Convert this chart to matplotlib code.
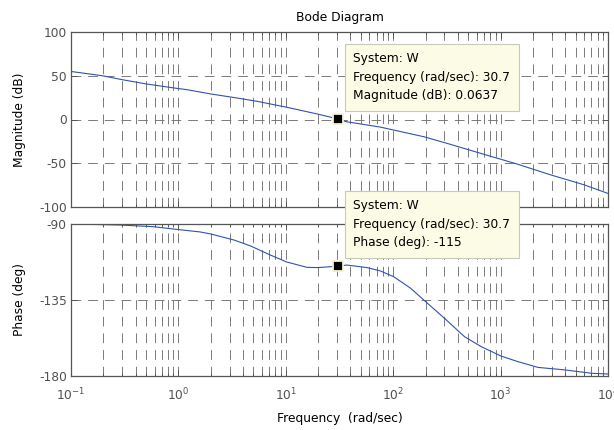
import matplotlib
matplotlib.use("Agg")
import matplotlib.pyplot as plt
from matplotlib.ticker import LogLocator, NullFormatter

plt.rcParams['font.family'] = ['DejaVu Sans']
plt.rcParams['font.size'] = 8.8
plt.rcParams['lines.scale_dashes'] = False
plt.rcParams['axes.unicode_minus'] = False

# values
mag_freq = [0.1, 0.196, 0.3, 0.51, 0.967, 1.2, 2.0, 3.5, 5.4, 10.2, 19.5, 26, 30.7,
            37, 76, 193, 318, 700, 1433, 2927, 5978, 10000]
mag_db = [54.9, 50, 45.5, 40.5, 35.6, 34.1, 29.2, 24.6, 20.8, 14, 6.4, 2.7, 0.0637,
          -2.6, -8.7, -19.7, -27.3, -39.8, -51, -63.3, -74.6, -84.5]

ph_freq = [0.1, 0.286, 0.585, 0.967, 1.59, 2.0, 3.3, 4.7, 7.2, 10.2, 15.8, 20, 26, 30.7,
           37, 57, 76, 101, 145, 209, 300, 461, 659, 1010, 1450, 2230, 3970, 7060, 10000]
ph_deg = [-90, -90.6, -91.6, -93.2, -94.7, -95.9, -99.5, -103, -108.4, -112.5, -115.7,
          -115.8, -115.3, -115, -114.3, -115.8, -117.8, -121.2, -128, -137, -145.8,
          -156.7, -162.6, -168.2, -171.5, -174.9, -176.4, -178.4, -178.8]

tip_freq = 30.7
tip_mag = 0.0637
tip_phase = -115

mag_ticks = [-100, -50, 0, 50, 100]
ph_ticks = [-180, -135, -90]

line_col = '#3152b0'
grid_col = '#7a7a7a'
edge_col = '#555555'
tick_col = '#505050'

fig = plt.figure(figsize=(6.14, 4.30), dpi=100)
ax1 = fig.add_axes([71/614, 1-207/430, 537/614, 175/430])
ax2 = fig.add_axes([71/614, 1-376/430, 537/614, 152/430])

for ax in (ax1, ax2):
    ax.set_xscale('log')
    ax.set_xlim(0.1, 1e4)
    ax.xaxis.set_major_locator(LogLocator(base=10, numticks=10))
    ax.xaxis.set_minor_locator(LogLocator(base=10, subs=range(2, 10), numticks=100))
    ax.xaxis.set_minor_formatter(NullFormatter())
    ax.tick_params(which='both', direction='in', top=True, right=True,
                   colors=edge_col, labelcolor=tick_col, labelsize=8.8)
    ax.tick_params(which='major', length=4, width=0.7)
    ax.tick_params(which='minor', length=2.5, width=0.7)
    ax.tick_params(axis='y', pad=3)
    ax.tick_params(axis='x', pad=8)
    for s in ax.spines.values():
        s.set_color(edge_col)
        s.set_linewidth(0.9)
    ax.grid(True, which='both', axis='x', color=grid_col, lw=0.7, linestyle=(0, (7, 5)))
    ax.grid(True, which='major', axis='y', color=grid_col, lw=0.7, linestyle=(0, (7, 5)))

ax1.plot(mag_freq, mag_db, color=line_col, lw=0.8)
ax1.set_ylim(-100, 100)
ax1.set_yticks(mag_ticks)
ax1.tick_params(axis='x', labelbottom=False)
ax1.set_ylabel('Magnitude (dB)')
ax1.yaxis.set_label_coords(-0.083, 0.5)
ax1.set_title('Bode Diagram', fontsize=8.8, pad=8)

ax2.plot(ph_freq, ph_deg, color=line_col, lw=0.8)
ax2.set_ylim(-180, -90)
ax2.set_yticks(ph_ticks)
ax2.set_ylabel('Phase (deg)')
ax2.yaxis.set_label_coords(-0.083, 0.5)
ax2.set_xlabel('Frequency  (rad/sec)', labelpad=6)

box = dict(boxstyle='square,pad=0.7', fc='#fbfbe6', ec='#c9c9b8', lw=0.8)
for ax, yv, txt in [
    (ax1, tip_mag, 'System: W\nFrequency (rad/sec): 30.7\nMagnitude (dB): 0.0637'),
    (ax2, tip_phase, 'System: W\nFrequency (rad/sec): 30.7\nPhase (deg): -115'),
]:
    ax.plot([tip_freq], [yv], marker='s', ms=7.5, mfc='black', mec='#f3f3cc',
            mew=1.3, ls='none', zorder=6, clip_on=False)
    ax.annotate(txt, xy=(tip_freq, yv), xytext=(15, 17), textcoords='offset pixels',
                ha='left', va='bottom', fontsize=8.8, linespacing=1.55,
                bbox=box, zorder=7, annotation_clip=False)

fig.savefig('out.png', dpi=100)
